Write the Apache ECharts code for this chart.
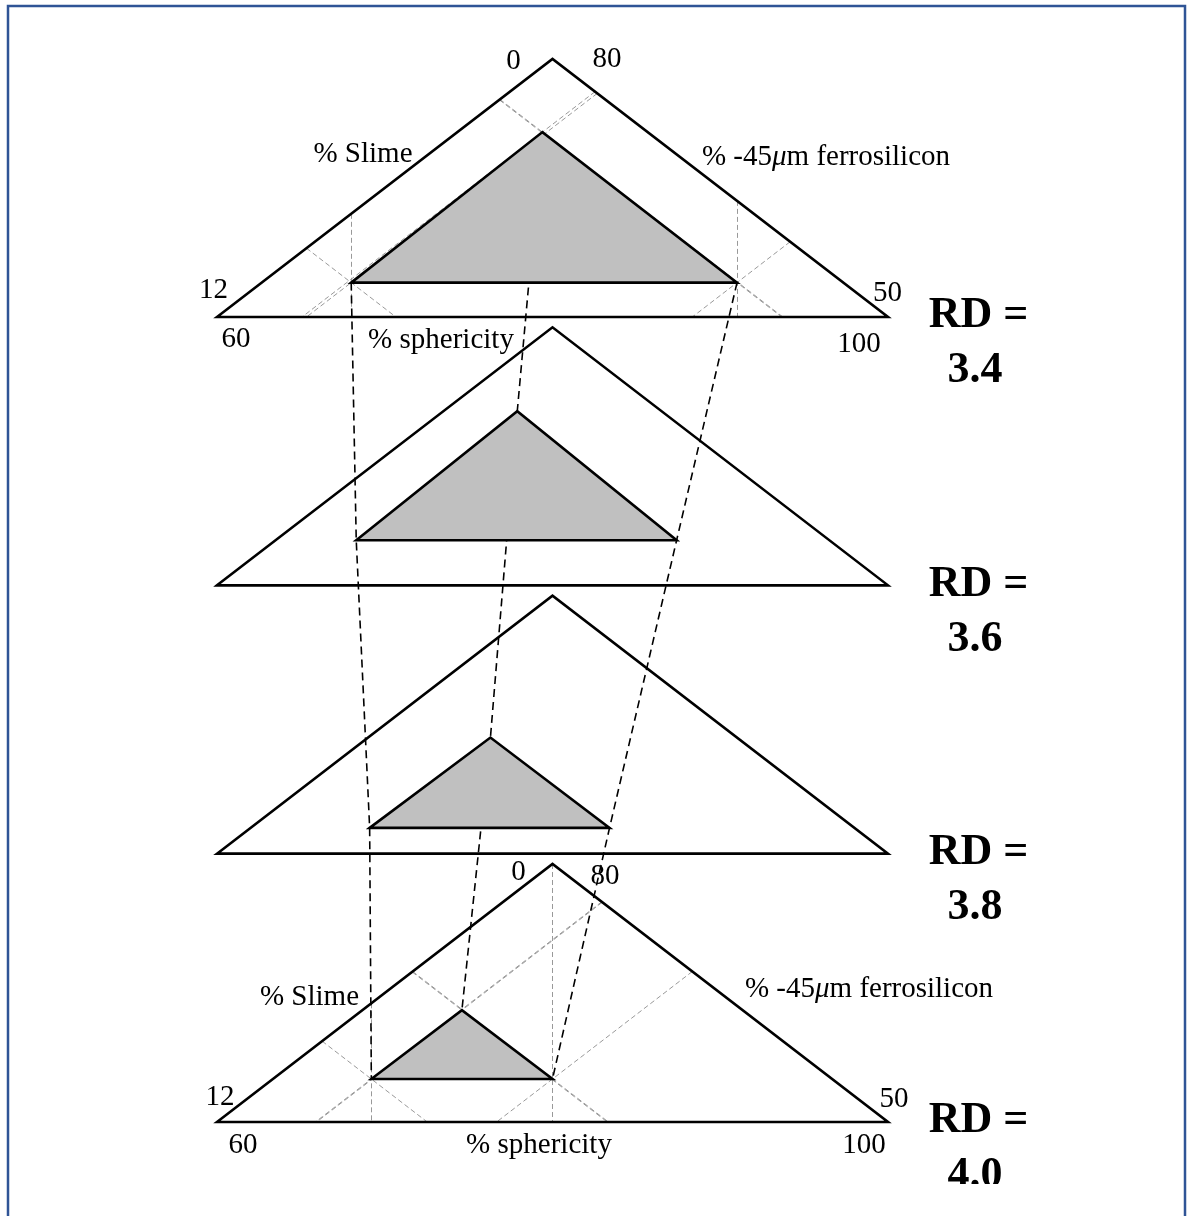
<!DOCTYPE html>
<html>
<head>
<meta charset="utf-8">
<title>Operating region vs medium relative density</title>
<script src="https://cdn.jsdelivr.net/npm/echarts@6/dist/echarts.min.js"></script>
<style>
  html, body { margin: 0; padding: 0; background: #ffffff; }
  #chart { width: 1191px; height: 1216px; }
</style>
</head>
<body>
<div id="chart"></div>
<script>
// Relative density of the medium, one panel per value (top to bottom)
const densityLabels = ['3.4', '3.6', '3.8', '4.0'];

// Corners of the operating region in each panel: [% sphericity, % slime]
const regionLeft  = [[68.0, 10.4], [68.3, 9.9], [69.1, 10.8], [69.2, 10.0]];
const regionApex  = [[79.4, 3.4],  [77.9, 3.9], [76.3, 6.6],  [74.6, 6.8]];
const regionRight = [[91.0, 10.4], [87.4, 9.9], [83.4, 10.8], [80.0, 10.0]];

// Scales of the triangle frame
const sphericityRange = [60, 100];  // along the base, left to right
const slimeRange = [0, 12];         // left side, apex to base
const ferroRange = [80, 50];        // right side, apex to base

// Panels that carry the scales and the guide lines
const scaledPanels = [0, 3];

// Axis titles
const titleSlime = '% Slime';
const titleFerro = '% -45{mu|\u03bc}m ferrosilicon';
const titleSphericity = '% sphericity';

// ---- geometry helpers -------------------------------------------------------
const PITCH = 12.48;                                   // panel spacing, slime units
const S0 = (sphericityRange[0] + sphericityRange[1]) / 2;
const M_BASE = slimeRange[1];
const K = (slimeRange[1] - slimeRange[0]) / ((sphericityRange[1] - sphericityRange[0]) / 2);
const nPanels = densityLabels.length;
const Y_MAX = (nPanels - 1) * PITCH + M_BASE;

function yOf(panel, slime) { return panel * PITCH + slime; }
function pt(panel, p) { return [p[0], yOf(panel, p[1])]; }

const apexPt = [S0, slimeRange[0]];
const baseLeftPt = [sphericityRange[0], M_BASE];
const baseRightPt = [sphericityRange[1], M_BASE];

// Guide lines through each region corner, parallel to the frame sides
function guideLines(panel) {
  const segs = [];
  [regionLeft[panel], regionApex[panel], regionRight[panel]].forEach((v, i) => {
    const s = v[0], m = v[1];
    // parallel to the right side
    const sa = (S0 + s - m / K) / 2;
    segs.push([[sa, K * (S0 - sa)], [s + (M_BASE - m) / K, M_BASE]]);
    // parallel to the left side
    const sc = (m / K + s + S0) / 2;
    segs.push([[sc, K * (sc - S0)], [s - (M_BASE - m) / K, M_BASE]]);
    // vertical from the frame to the base (base corners only)
    if (i !== 1) segs.push([[s, K * Math.abs(s - S0)], [s, M_BASE]]);
  });
  return segs.map(seg => ({ coords: seg.map(p => pt(panel, p)) }));
}

let guideData = [];
scaledPanels.forEach(p => { guideData = guideData.concat(guideLines(p)); });

const connectorData = [regionLeft, regionApex, regionRight].map(arr => ({
  coords: arr.map((v, k) => pt(k, v))
}));

// ---- text -------------------------------------------------------------------
const SERIF = '"Liberation Serif", "Times New Roman", Times, serif';
const FONT_SIZE = 29;
const labelLayoutByPanel = {
  0: { slimeMin: [-39, 2], ferroMax: [54.5, 0], slimeMax: [-3.5, -27], sphMin: [19, 22.5],
       ferroMin: [-0.5, -24], sphMax: [-29, 27], slimeTitle: [-189.5, 95],
       ferroTitle: [273.5, 98], sphTitle: [224, 23] },
  3: { slimeMin: [-34, 8], ferroMax: [52.5, 12], slimeTitle: [-243, 133],
       ferroTitle: [316.5, 125], slimeMax: [3, -25], sphMin: [26, 23],
       ferroMin: [6, -23], sphMax: [-24, 23], sphTitle: [322, 23] }
};

const textData = [];
function addText(panel, anchor, text, offset, extra) {
  textData.push({
    value: pt(panel, anchor),
    label: Object.assign({
      show: true, formatter: text, offset: offset,
      color: '#000000', fontFamily: SERIF, fontSize: FONT_SIZE,
      textBorderWidth: 0, textShadowBlur: 0
    }, extra || {})
  });
}
scaledPanels.forEach(p => {
  const L = labelLayoutByPanel[p];
  addText(p, apexPt, String(slimeRange[0]), L.slimeMin);
  addText(p, apexPt, String(ferroRange[0]), L.ferroMax);
  addText(p, apexPt, titleSlime, L.slimeTitle);
  addText(p, apexPt, titleFerro, L.ferroTitle);
  addText(p, baseLeftPt, String(slimeRange[1]), L.slimeMax);
  addText(p, baseLeftPt, String(sphericityRange[0]), L.sphMin);
  addText(p, baseLeftPt, titleSphericity, L.sphTitle);
  addText(p, baseRightPt, String(ferroRange[1]), L.ferroMin);
  addText(p, baseRightPt, String(sphericityRange[1]), L.sphMax);
});
densityLabels.forEach((d, k) => {
  const bold = { fontSize: 44, fontWeight: 'bold' };
  addText(k, baseRightPt, 'RD =', [90.5, -1], bold);
  addText(k, baseRightPt, d, [87, 54], bold);
});

// ---- chart ------------------------------------------------------------------
const chart = echarts.init(document.getElementById('chart'), null, { renderer: 'canvas' });

function triangleRenderer(fill, stroke, width) {
  return function (params, api) {
    const k = api.value(0);
    const src = params.seriesName === 'region'
      ? [regionLeft[k], regionApex[k], regionRight[k]]
      : [baseLeftPt, apexPt, baseRightPt];
    const points = src.map(v => api.coord(pt(k, v)));
    return {
      type: 'polygon',
      shape: { points: points },
      style: { fill: fill, stroke: stroke, lineWidth: width, lineJoin: 'miter' }
    };
  };
}

const panelIndex = densityLabels.map((d, k) => [k]);

chart.setOption({
  animation: false,
  backgroundColor: '#ffffff',
  grid: { left: 217, right: 303, top: 59, bottom: 94, containLabel: false },
  xAxis: { type: 'value', min: sphericityRange[0], max: sphericityRange[1], show: false },
  yAxis: { type: 'value', min: 0, max: Y_MAX, inverse: true, show: false },
  graphic: [
    // the page is cut just under the last density value
    { type: 'rect', zlevel: 1, z: 90, silent: true,
      shape: { x: 0, y: 1184, width: 1191, height: 32 },
      style: { fill: '#ffffff', stroke: 'none' } },
    { type: 'rect', zlevel: 1, z: 100, silent: true,
      shape: { x: 8, y: 6, width: 1177, height: 1230 },
      style: { fill: 'none', stroke: '#2f5496', lineWidth: 2.5 } }
  ],
  series: [
    {
      name: 'guides', type: 'lines', coordinateSystem: 'cartesian2d', z: 1,
      silent: true, symbol: 'none',
      lineStyle: { color: '#999999', width: 1, type: [5, 3], opacity: 1 },
      data: guideData
    },
    {
      name: 'connectors', type: 'lines', coordinateSystem: 'cartesian2d', polyline: true, z: 2,
      silent: true, symbol: 'none',
      lineStyle: { color: '#000000', width: 1.6, type: [8, 5], opacity: 1 },
      data: connectorData
    },
    {
      name: 'region', type: 'custom', coordinateSystem: 'cartesian2d', z: 3, clip: false,
      renderItem: triangleRenderer('#c0c0c0', '#000000', 2.6),
      data: panelIndex
    },
    {
      name: 'frame', type: 'custom', coordinateSystem: 'cartesian2d', z: 4, clip: false,
      renderItem: triangleRenderer('none', '#000000', 2.6),
      data: panelIndex
    },
    {
      name: 'text', type: 'scatter', z: 5, clip: false, silent: true,
      symbolSize: 1, itemStyle: { color: '#ffffff', opacity: 0 },
      label: {
        show: true, position: [0.5, 0.5], align: 'center', verticalAlign: 'middle',
        fontFamily: SERIF, fontSize: FONT_SIZE, color: '#000000', opacity: 1,
        rich: { mu: { fontFamily: SERIF, fontSize: FONT_SIZE, fontStyle: 'italic', color: '#000000' } }
      },
      data: textData
    }
  ]
});
</script>
</body>
</html>
